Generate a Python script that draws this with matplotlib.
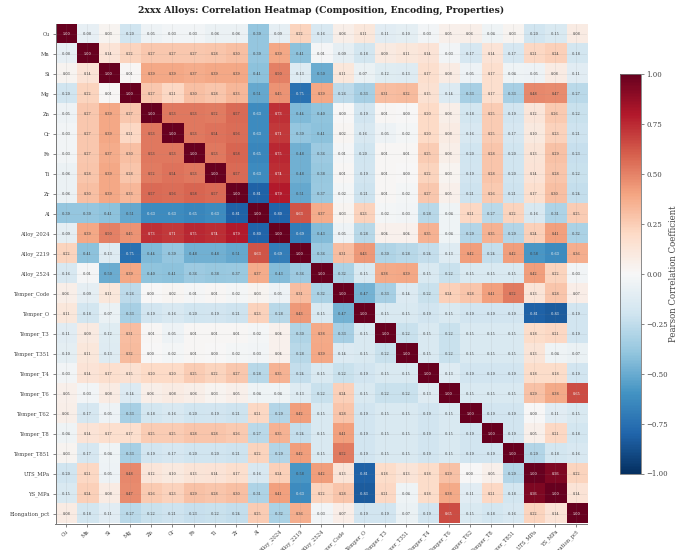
import numpy as np
import matplotlib
matplotlib.use("Agg")
import matplotlib.pyplot as plt

plt.rcParams['font.family'] = 'DejaVu Serif'

labels = ["Cu", "Mn", "Si", "Mg", "Zn", "Cr", "Fe", "Ti", "Zr", "Al",
          "Alloy_2024", "Alloy_2219", "Alloy_2524", "Temper_Code", "Temper_O",
          "Temper_T3", "Temper_T351", "Temper_T4", "Temper_T6", "Temper_T62",
          "Temper_T8", "Temper_T851", "UTS_MPa", "YS_MPa", "Elongation_pct"]

# upper triangle, one list per row
cu = [-.08, .03, -.20, -.05, -.03, -.03, -.06, -.06, -.39, -.09, .22, -.16, .06, .11, -.11, -.10, -.03, .05, .06, -.04, .03, -.20, -.15, .08]
mn = [.14, .22, .27, .27, .27, .28, .30, -.39, .39, -.41, -.01, -.09, -.18, .09, .11, .14, -.03, -.17, .14, -.17, .21, .24, -.18]
si = [.01, .39, .39, .37, .39, .39, -.41, .50, -.13, -.50, .11, -.07, -.12, -.13, .17, .08, -.05, .17, -.04, -.05, .08, -.11]
mg = [.27, .21, .30, .28, .33, -.51, .45, -.75, .39, -.26, -.33, .31, .32, .15, -.14, -.33, .17, -.33, .48, .47, -.27]
zn = [.53, .53, .52, .57, -.63, .73, -.44, -.40, .00, -.19, .01, .00, .20, .06, -.18, .25, -.19, .12, .26, -.22]
cr = [.53, .54, .56, -.63, .71, -.39, -.41, .02, -.16, -.05, -.02, .20, .08, -.16, .25, -.17, .10, .23, -.21]
fe = [.53, .58, -.65, .75, -.48, -.36, -.01, -.20, .01, .01, .25, .06, -.20, .28, -.20, .13, .29, -.23]
ti = [.57, -.63, .74, -.48, -.38, .01, -.19, .01, .00, .22, .03, -.19, .28, -.20, .14, .28, -.22]
zr = [-.81, .79, -.51, -.37, -.02, -.21, .01, -.02, .27, .05, -.21, .26, -.21, .17, .30, -.24]
al = [-.80, .63, .37, .03, .23, -.02, -.03, -.28, -.04, .21, -.27, .22, -.16, -.31, .25]
a2024 = [-.69, -.43, -.05, -.28, .04, .04, .35, -.04, -.29, .35, -.29, .24, .41, -.32]
a2219 = [-.36, .31, .43, -.30, -.28, -.24, -.13, .42, -.24, .42, -.58, -.63, .36]
a2524 = [-.32, -.15, .38, .39, -.15, -.22, -.15, -.15, -.15, .42, .22, -.03]
tcode = [-.47, -.33, -.14, -.22, .24, .28, .41, .52, .13, .28, .07]
t_o = [-.15, -.15, -.19, -.15, -.19, -.19, -.19, -.81, -.83, -.19]
t3 = [-.22, -.15, -.22, -.15, -.15, -.15, .18, .21, -.19]
t351 = [-.15, -.22, -.15, -.15, -.15, .13, -.04, -.07]
t4 = [-.13, -.19, -.19, -.19, .18, .18, -.19]
t6 = [-.15, -.15, -.15, .29, .38, .65]
t62 = [-.19, -.19, .00, -.11, -.15]
t8 = [-.19, .05, .21, -.18]
t851 = [-.29, -.18, -.16]
uts = [.93, .22]
ys = [.14]

rows = [cu, mn, si, mg, zn, cr, fe, ti, zr, al, a2024, a2219, a2524, tcode,
        t_o, t3, t351, t4, t6, t62, t8, t851, uts, ys]

n = len(labels)
corr = np.eye(n)
for i, r in enumerate(rows):
    for j, v in enumerate(r):
        corr[i, i + 1 + j] = v
        corr[i + 1 + j, i] = v

W, H = 688, 550
fig = plt.figure(figsize=(W / 100, H / 100), dpi=100)
ax = fig.add_axes([55.5 / W, 1 - 523.5 / H, (587 - 55.5) / W, (523.5 - 24) / H])
im = ax.imshow(corr, cmap="RdBu_r", vmin=-1, vmax=1, aspect="auto")

ax.set_xticks(range(n))
ax.set_yticks(range(n))
ax.set_xticklabels(labels, rotation=45, ha="right", fontsize=3.8, color="#444444", rotation_mode="anchor")
ax.set_yticklabels(labels, fontsize=3.8, color="#444444")
ax.tick_params(length=2, width=0.5, color="#555555", pad=2)
ax.grid(True, color="#888888", alpha=0.2, linewidth=0.4)
for s in ["top", "right"]:
    ax.spines[s].set_visible(False)
for s in ["left", "bottom"]:
    ax.spines[s].set_color("#777777")
    ax.spines[s].set_linewidth(0.7)

for i in range(n):
    for j in range(n):
        v = corr[i, j]
        col = "white" if abs(v) > 0.6 else "#333333"
        ax.text(j, i, f"{v:.2f}", ha="center", va="center", fontsize=2.4, color=col)

ax.set_title("2xxx Alloys: Correlation Heatmap (Composition, Encoding, Properties)",
             fontsize=6.7, fontweight="bold", color="#222222", x=(321 - 55.5) / (587 - 55.5), pad=8)

cax = fig.add_axes([620 / W, 1 - 473.5 / H, 20.5 / W, 399.5 / H])
cb = fig.colorbar(im, cax=cax)
cb.set_ticks([-1, -.75, -.5, -.25, 0, .25, .5, .75, 1])
cb.ax.tick_params(labelsize=5.0, length=2.5, width=0.5, labelcolor="#444444", color="#555555", pad=1.5)
cb.outline.set_edgecolor("#777777")
cb.outline.set_linewidth(0.6)
cb.set_label("Pearson Correlation Coefficient", fontsize=6.2, color="#444444")
cb.ax.yaxis.set_label_coords(2.4, 0.5)

fig.savefig("out.png", dpi=100)
